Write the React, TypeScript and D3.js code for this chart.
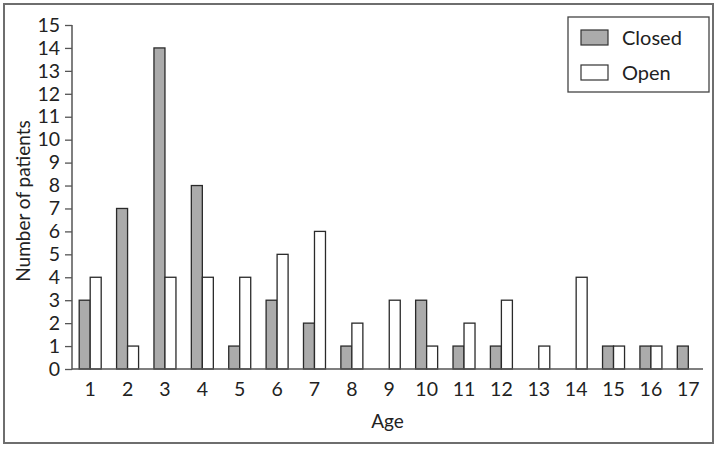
import React, { useEffect, useRef } from "react";
import * as d3 from "d3";

// ages on the x axis
const ages = ["1", "2", "3", "4", "5", "6", "7", "8", "9", "10", "11", "12", "13", "14", "15", "16", "17"];
// number of patients per age
const closedCounts = [3, 7, 14, 8, 1, 3, 2, 1, 0, 3, 1, 1, 0, 0, 1, 1, 1];
const openCounts = [4, 1, 4, 4, 4, 5, 6, 2, 3, 1, 2, 3, 1, 4, 1, 1, 0];
const seriesNames = ["Closed", "Open"];
const yTicks = d3.range(0, 16);

const FONT = "'Century Gothic', 'Lato', 'DejaVu Sans', sans-serif";

export default function App() {
  const ref = useRef<SVGSVGElement>(null);

  useEffect(() => {
    const svg = d3.select(ref.current);
    svg.selectAll("*").remove();

    // outer frame
    svg.append("rect")
      .attr("x", 4).attr("y", 4)
      .attr("width", 709).attr("height", 439)
      .attr("fill", "white")
      .attr("stroke", "#6e6e6e")
      .attr("stroke-width", 2);

    const left = 72, right = 707, top = 25, bottom = 369;

    const x = d3.scaleBand().domain(ages).range([left - 0.5, right]).padding(0);
    const y = d3.scaleLinear().domain([0, 15]).range([bottom, top]);

    const barW = 11;
    const series = [closedCounts, openCounts];
    const fills = ["#ababab", "#ffffff"];

    // bars, zero values are not drawn
    series.forEach(function (vals, si) {
      const rows = vals.map(function (v, i) { return { age: ages[i], value: v }; })
        .filter(function (d) { return d.value > 0; });
      svg.append("g")
        .selectAll("rect")
        .data(rows)
        .enter()
        .append("rect")
        .attr("x", function (d) { return (x(d.age) as number) + x.bandwidth() / 2 - barW + si * barW; })
        .attr("y", function (d) { return y(d.value); })
        .attr("width", barW)
        .attr("height", function (d) { return y(0) - y(d.value); })
        .attr("fill", fills[si])
        .attr("stroke", "#2a2a2a")
        .attr("stroke-width", 1.3);
    });

    // y axis
    const yAxis = svg.append("g")
      .attr("transform", "translate(" + left + ",0)")
      .call(d3.axisLeft(y).tickValues(yTicks).tickSize(7).tickPadding(5).tickFormat(d3.format("d")));
    yAxis.select(".domain").attr("stroke", "#555").attr("stroke-width", 1.5).attr("d", "M0," + (bottom + 0.5) + "V" + top);
    yAxis.selectAll(".tick line").attr("stroke", "#555").attr("stroke-width", 1.3);
    yAxis.selectAll(".tick text")
      .attr("fill", "#222")
      .style("font-family", FONT)
      .style("font-size", "19.5px");

    // x axis
    const xAxis = svg.append("g")
      .attr("transform", "translate(0," + bottom + ")")
      .call(d3.axisBottom(x).tickSize(0).tickPadding(13));
    xAxis.select(".domain").attr("stroke", "#555").attr("stroke-width", 1.5).attr("d", "M" + left + ",0H703");
    xAxis.selectAll(".tick text")
      .attr("fill", "#222")
      .style("font-family", FONT)
      .style("font-size", "19.5px");

    // axis titles
    svg.append("text")
      .attr("x", (left + 703) / 2)
      .attr("y", 428)
      .attr("text-anchor", "middle")
      .attr("fill", "#222")
      .style("font-family", FONT)
      .style("font-size", "19px")
      .text("Age");

    svg.append("text")
      .attr("transform", "translate(30," + 201 + ") rotate(-90)")
      .attr("text-anchor", "middle")
      .attr("fill", "#222")
      .style("font-family", FONT)
      .style("font-size", "19px")
      .text("Number of patients");

    // legend
    const legend = svg.append("g");
    legend.append("rect")
      .attr("x", 568).attr("y", 17)
      .attr("width", 141).attr("height", 75)
      .attr("fill", "white")
      .attr("stroke", "#444")
      .attr("stroke-width", 1.3);
    seriesNames.forEach(function (name, i) {
      legend.append("rect")
        .attr("x", 581).attr("y", 30 + i * 35)
        .attr("width", 27).attr("height", 15)
        .attr("fill", fills[i])
        .attr("stroke", "#333")
        .attr("stroke-width", 1.2);
      legend.append("text")
        .attr("x", 622).attr("y", 38 + i * 35)
        .attr("dy", "0.35em")
        .attr("fill", "#222")
        .style("font-family", FONT)
        .style("font-size", "20px")
        .text(name);
    });
  }, []);

  return (
    <svg ref={ref} width={718} height={451}
      style={{ position: "absolute", left: 0, top: 0, background: "white" }} />
  );
}
